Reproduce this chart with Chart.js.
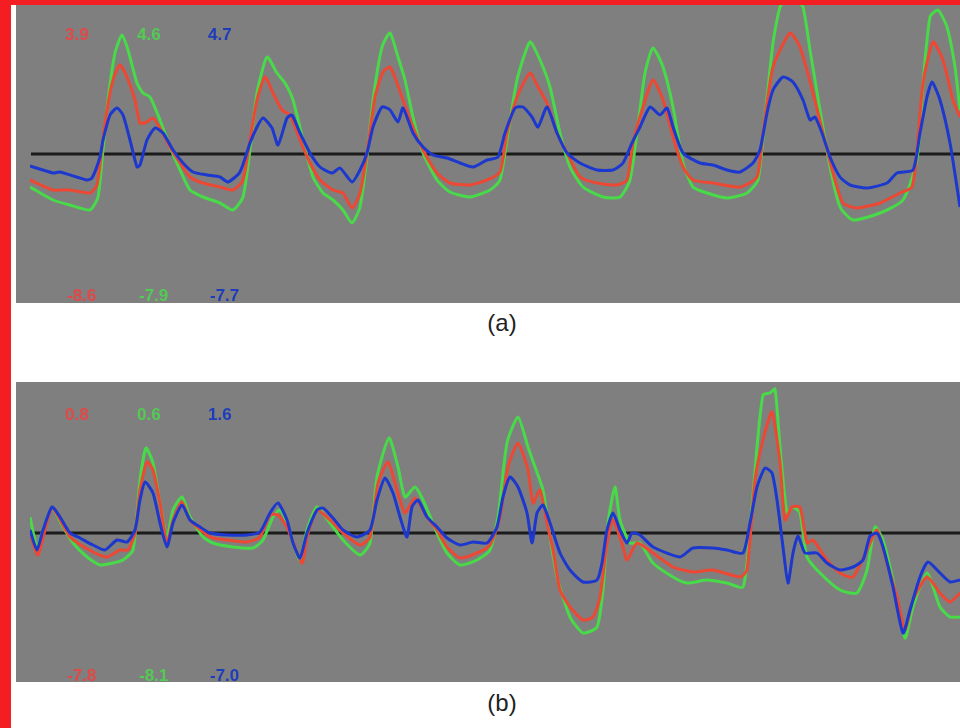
<!DOCTYPE html>
<html>
<head>
<meta charset="utf-8">
<script src="https://cdn.jsdelivr.net/npm/chart.js@4.4.1/dist/chart.umd.min.js"></script>
<style>
  html, body { margin: 0; padding: 0; background: #fff; }
  body { width: 960px; height: 728px; position: relative; overflow: hidden; font-family: "Liberation Sans", Arial, sans-serif; }
  .red { position: absolute; background: #f41d22; }
  .panel { position: absolute; left: 16px; width: 944px; background: #7f7f7f; overflow: hidden; }
  .panel canvas { position: absolute; left: 0; top: 0; }
  .lbl { position: absolute; font-size: 17px; line-height: 17px; font-weight: bold; white-space: nowrap; }
  .caption { position: absolute; width: 60px; text-align: center; font-size: 24px; color: #222; }
</style>
</head>
<body>
<div class="red" style="left:0;top:0;width:11px;height:728px"></div>
<div class="red" style="left:0;top:0;width:960px;height:5px"></div>

<div class="panel" id="panel-a" style="top:5px;height:298px">
  <canvas id="chart-a" width="944" height="298"></canvas>
</div>
<div class="caption" style="left:472px;top:309px">(a)</div>

<div class="panel" id="panel-b" style="top:382px;height:300px">
  <canvas id="chart-b" width="944" height="300"></canvas>
</div>
<div class="caption" style="left:472px;top:689px">(b)</div>

<script>
// Panel (a) traces: x = sample position, y = signal value
const aBlueX = [30,53,60,87,92,100,103,110,117,123,130,137,140,147,155,163,173,183,193,207,220,228,240,250,257,263,272,278,287,292,300,310,320,332,340,352,360,367,373,382,390,398,403,413,423,433,447,460,473,487,498,505,515,523,532,538,547,557,567,580,597,613,623,632,640,650,660,667,673,683,700,713,727,740,753,760,767,773,783,793,803,810,815,822,830,840,850,867,887,897,913,920,927,932,940,950,960];
const aBlueY = [-1.2,-1.9,-1.8,-2.6,-2.4,-0.3,1.4,3.9,4.6,3.9,1.4,-1.3,-1.1,1.4,2.6,2.1,0.4,-0.9,-1.8,-2.1,-2.3,-2.8,-1.8,1.1,2.7,3.6,2.6,0.9,3.6,3.9,2.1,0.1,-1.3,-1.9,-1.4,-2.8,-1.6,0.1,2.7,4.7,4.4,3.2,4.6,2.1,0.7,-0.1,-0.4,-0.9,-1.3,-0.6,-0.3,2.1,4.6,4.7,3.7,2.7,4.7,2.1,0.1,-0.9,-1.6,-1.6,-0.9,1.1,2.7,4.7,3.9,4.6,2.7,0.1,-0.9,-1.1,-1.6,-1.8,-0.9,0.4,4.1,6.4,7.7,7.2,5.4,3.4,3.7,2.1,-0.3,-2.3,-3.1,-3.4,-2.9,-1.9,-1.6,2.1,5.7,7.2,5.4,1.1,-5.3];

const aRedX = [30,53,70,90,97,102,107,113,120,127,135,140,147,153,160,170,180,190,203,220,233,243,250,257,265,273,282,290,300,310,320,333,343,352,360,367,375,383,390,397,403,413,423,437,450,470,487,500,507,517,530,538,547,557,567,580,597,617,627,633,643,653,663,673,683,693,713,740,757,763,773,790,800,813,823,833,843,857,880,900,912,917,923,933,943,953,960];
const aRedY = [-2.6,-3.6,-3.6,-3.9,-3.1,0.7,4.4,7.4,8.9,7.7,5.4,3.1,3.2,3.6,2.6,0.7,-0.9,-2.3,-2.9,-3.3,-3.6,-2.6,1.4,5.4,7.7,6.1,4.4,3.9,1.4,-0.9,-2.6,-3.6,-3.9,-5.4,-3.9,0.1,5.7,8.2,8.7,7.1,5.4,2.7,0.4,-1.9,-2.9,-3.1,-2.6,-1.8,2.1,5.7,8.1,6.7,5.1,2.1,0.1,-2.3,-2.9,-3.1,-2.6,1.1,4.7,7.4,5.4,1.7,-1.3,-2.6,-2.9,-3.3,-2.3,2.1,8.7,12.1,10.7,6.1,2.1,-1.9,-4.9,-5.4,-4.9,-3.9,-3.3,0.4,7.1,11.2,9.4,5.4,3.7];

const aGreenX = [30,53,70,90,98,103,108,115,122,128,137,143,150,160,170,180,190,203,220,233,243,250,257,267,277,285,293,303,313,323,333,343,352,360,367,373,382,390,398,405,413,423,437,450,470,490,500,507,517,530,540,550,560,570,583,603,620,630,637,645,653,663,673,683,693,707,727,747,758,765,773,780,787,795,803,810,820,830,840,853,880,903,917,923,930,938,947,955,960];
const aGreenY = [-3.3,-4.6,-5.1,-5.6,-4.3,0.4,5.4,10.1,11.9,10.4,7.1,6.1,5.7,3.4,0.7,-1.6,-3.6,-4.3,-4.9,-5.6,-4.3,0.4,6.1,9.7,8.1,7.1,5.4,1.4,-2.3,-3.9,-4.6,-5.6,-6.9,-5.3,-0.3,5.4,10.7,12.1,9.7,7.4,3.7,0.1,-2.6,-3.8,-4.3,-3.6,-2.6,1.4,7.4,11.2,9.4,6.7,2.1,-1.3,-3.3,-4.3,-4.3,-2.6,2.1,8.1,10.6,8.7,4.7,-0.9,-3.3,-3.9,-4.4,-3.9,-2.6,3.7,11.1,14.7,15.5,15.5,14.7,10.4,4.4,-1.3,-5.3,-6.6,-5.9,-4.6,-0.6,7.1,13.7,14.4,12.7,8.7,4.4];

// Panel (b) traces
const bBlueX = [30,37,43,52,60,70,80,93,105,117,127,135,140,145,153,160,167,173,182,190,200,210,227,247,260,270,278,287,293,300,307,317,323,333,343,357,370,377,385,393,400,407,412,418,427,437,447,460,473,487,497,503,510,518,527,532,537,543,550,560,570,583,597,602,607,613,620,627,632,640,653,680,693,713,727,743,750,757,765,772,777,783,788,793,798,805,817,827,840,853,863,870,877,883,893,903,910,920,928,940,950,960];
const bBlueY = [0.3,-1.7,0.3,2.6,1.6,0,-0.5,-1.2,-1.7,-0.7,-0.9,0.3,3.3,5.1,4.0,1.0,-1.4,1.0,2.8,1.3,0.6,0,-0.2,-0.2,0.1,2.0,3.0,1.3,-1.0,-2.5,0,2.3,2.5,1.5,0.3,-0.4,0.3,3.3,5.5,4.0,1.6,-0.4,2.6,3.3,1.6,0.6,-0.5,-1.2,-0.9,-1.0,0.6,3.6,5.6,4.6,2.0,-1.0,2.0,2.8,1.0,-2.0,-3.7,-4.9,-4.7,-3.0,0.3,2.0,0.3,-1.0,0,-0.2,-1.4,-2.4,-1.5,-1.5,-1.7,-2.0,1.0,4.6,6.5,6.0,3.3,-1.4,-5.0,-2.0,-0.3,-2.0,-2.0,-3.0,-3.7,-3.4,-2.7,-0.3,0,-1.4,-5.4,-10.0,-7.7,-4.4,-2.9,-4.0,-4.9,-4.7];

const bRedX = [30,38,52,70,93,107,120,128,135,140,147,153,160,167,173,182,190,210,227,247,260,270,278,287,302,307,317,330,343,360,370,378,388,397,405,415,427,437,447,460,477,490,500,508,518,528,533,540,547,553,560,570,583,593,600,607,613,623,627,637,653,673,693,713,740,747,755,763,772,780,785,792,800,807,813,827,840,853,867,877,887,897,905,913,927,940,950,960];
const bRedY = [0,-2.2,2.5,-0.4,-1.9,-2.4,-1.7,-1.7,0,4.3,7.1,6.3,3.0,-1.0,1.3,3.1,1.3,-0.4,-0.7,-0.9,-0.4,1.8,1.8,0.6,-3.0,-0.4,2.3,1.3,0,-1.2,-0.4,5.0,7.1,4.3,2.0,3.5,1.6,0.3,-1.4,-2.5,-2.0,-1.2,1.6,6.6,9.0,6.3,3.0,4.3,1.0,-1.7,-5.7,-7.4,-8.7,-8.4,-6.4,-1.0,1.3,-1.4,-2.7,-1.0,-2.0,-3.4,-3.9,-3.7,-4.4,-3.7,5.3,9.3,12.1,7.0,1.3,2.6,2.6,-1.0,-0.7,-2.7,-4.0,-4.4,-1.7,0.3,-3.0,-6.4,-9.7,-6.7,-4.4,-6.0,-6.9,-6.0];

const bGreenX = [30,37,43,52,63,73,87,100,113,123,133,140,146,153,160,167,173,182,190,203,213,233,253,263,273,280,287,293,300,307,317,330,343,360,370,377,389,398,405,415,423,437,447,460,477,490,498,507,518,528,535,543,550,557,570,583,597,603,608,615,620,630,640,653,673,687,707,727,743,750,757,763,770,775,780,787,793,800,807,820,840,857,867,875,883,893,905,913,927,940,950,960];
const bGreenY = [1.6,-1.4,0.3,2.5,0.6,-1.0,-2.4,-3.2,-3.0,-2.7,-1.7,5.3,8.5,7.0,3.0,-0.4,2.3,3.6,1.6,-0.4,-1.0,-1.4,-1.5,-0.7,1.6,2.3,1.0,-1.0,-2.7,0.3,2.6,1.0,-0.7,-2.2,-1.0,5.6,9.5,6.6,3.6,4.6,3.3,0,-2.0,-3.2,-2.7,-1.7,1.6,9.0,11.6,8.6,6.6,4.3,-0.4,-4.4,-8.4,-10.0,-9.4,-5.7,1.0,4.6,1.3,-1.0,-1.0,-3.0,-4.4,-5.0,-4.7,-5.0,-5.4,0.3,8.6,13.8,14.0,14.4,8.6,2.0,2.6,2.0,-2.4,-4.0,-5.7,-6.0,-3.7,0.6,-0.7,-4.7,-10.5,-7.4,-4.0,-7.4,-8.4,-8.4];

// Corner readouts (red, green, blue)
const aMaxLabels = ['3.9', '4.6', '4.7'];
const aMinLabels = ['-8.6', '-7.9', '-7.7'];
const bMaxLabels = ['0.8', '0.6', '1.6'];
const bMinLabels = ['-7.8', '-8.1', '-7.0'];

const lineColors = ['rgb(236,72,52)', 'rgb(72,218,72)', 'rgb(28,56,206)'];
const labelColors = ['#e24848', '#52cc52', '#1d3cbc'];
const labelLefts = [49, 121, 192];

function toPoints(xs, ys) {
  return xs.map((x, i) => ({ x: x, y: ys[i] }));
}

function addLabels(panelId, topTexts, bottomTexts, topBaseline, bottomBaseline) {
  const panel = document.getElementById(panelId);
  [[topTexts, topBaseline], [bottomTexts, bottomBaseline]].forEach(([texts, baseline]) => {
    texts.forEach((text, i) => {
      const span = document.createElement('span');
      span.className = 'lbl';
      span.textContent = text;
      span.style.color = labelColors[i];
      span.style.left = (labelLefts[i] + (text[0] === '-' ? 2 : 0)) + 'px';
      span.style.top = (baseline - 14) + 'px';
      panel.appendChild(span);
    });
  });
}

function drawPanel(canvasId, red, green, blue, yMin, yMax) {
  const ctx = document.getElementById(canvasId).getContext('2d');
  const trace = (data, color) => ({
    data: data,
    borderColor: color,
    borderWidth: 3,
    pointRadius: 0,
    tension: 0.2,
    fill: false,
  });

  return new Chart(ctx, {
    type: 'line',
    data: {
      datasets: [
        trace(toPoints(blue[0], blue[1]), lineColors[2]),
        trace(toPoints(red[0], red[1]), lineColors[0]),
        trace(toPoints(green[0], green[1]), lineColors[1]),
        {
          // zero reference line
          data: [{ x: 31, y: 0 }, { x: 960, y: 0 }],
          borderColor: '#1b1b1b',
          borderWidth: 3,
          pointRadius: 0,
        },
      ]
    },
    options: {
      responsive: false,
      animation: false,
      devicePixelRatio: 1,
      layout: { padding: { left: 14, right: 0, top: 0, bottom: 0 } },
      scales: {
        x: { type: 'linear', min: 30, max: 960, display: false },
        y: { min: yMin, max: yMax, display: false },
      },
      plugins: {
        legend: { display: false },
        tooltip: { enabled: false },
      }
    }
  });
}

drawPanel('chart-a', [aRedX, aRedY], [aGreenX, aGreenY], [aBlueX, aBlueY], -14.9, 14.9);
drawPanel('chart-b', [bRedX, bRedY], [bGreenX, bGreenY], [bBlueX, bBlueY], -14.9, 15.1);

addLabels('panel-a', aMaxLabels, aMinLabels, 35, 296);
addLabels('panel-b', bMaxLabels, bMinLabels, 38, 299);
</script>
</body>
</html>
